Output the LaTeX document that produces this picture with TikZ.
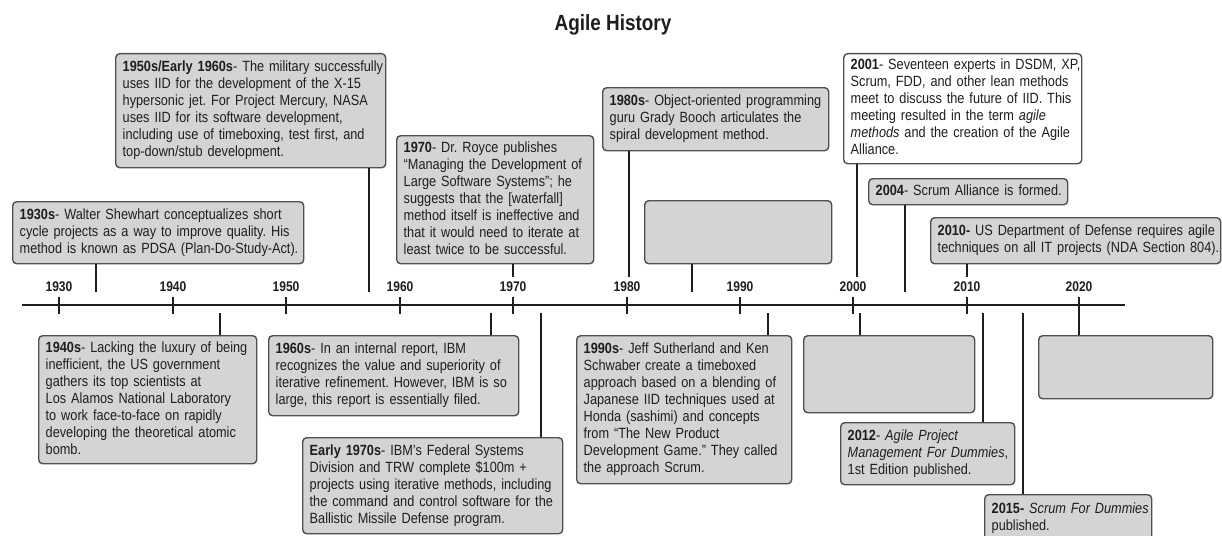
\documentclass[tikz,border=0pt]{standalone}
\usepackage{fontspec}
\setmainfont{Liberation Sans}[FakeStretch=0.86]
\definecolor{boxfill}{RGB}{212,212,212}
\definecolor{boxline}{RGB}{80,80,80}
\definecolor{ink}{RGB}{30,30,30}
\tikzset{
  evbox/.style={draw=boxline, fill=boxfill, line width=1.4pt, rounded corners=4pt,
    anchor=north west, align=left, inner xsep=7pt, inner ysep=0pt, text=ink,
    font=\fontsize{14.8}{17}\selectfont\frenchspacing},
  conn/.style={draw=ink, line width=1.1pt},
  axisline/.style={draw=ink, line width=1.2pt},
  yearlbl/.style={font=\fontsize{14}{15}\selectfont\bfseries, text=ink, inner sep=0pt},
}
\newcommand{\evb}[1]{\textbf{#1}}
\newcommand{\evt}[1]{\begin{tabular}{@{}l@{}}#1\end{tabular}}
\begin{document}
\begin{tikzpicture}[x=1pt,y=-1pt]
\clip (0,0) rectangle (1222,535);
\fill[white] (0,0) rectangle (1222,535);

% title
\node[font=\fontsize{22}{24}\selectfont\bfseries, text=ink] (title) at (613,25) {Agile History};

% axis
\coordinate (axL) at (22,305);
\coordinate (axR) at (1125,305);
\draw[axisline] (axL) -- (axR);
\foreach \yr/\xx in {1930/59,1940/173,1950/286,1960/400,1970/513,1980/627,1990/740,2000/853,2010/967,2020/1079}{
  \draw[axisline] (\xx,297) -- (\xx,314);
  \node[yearlbl] (y\yr) at (\xx,287) {\yr};
}

% upper boxes
\node[evbox, minimum width=291pt, minimum height=62pt, text width=277pt] (b1930s) at (12,201)
 {\evt{\evb{1930s}- Walter Shewhart conceptualizes short\\cycle projects as a way to improve quality. His\\method is known as PDSA (Plan-Do-Study-Act).}};
\node[evbox, minimum width=270pt, minimum height=114pt, text width=256pt] (b1950s) at (115,53)
 {\evt{\evb{1950s/Early 1960s}- The military successfully\\uses IID for the development of the X-15\\hypersonic jet. For Project Mercury, NASA\\uses IID for its software development,\\including use of timeboxing, test first, and\\top-down/stub development.}};
\node[evbox, minimum width=197pt, minimum height=128pt, text width=183pt] (b1970) at (396,135)
 {\evt{\evb{1970}- Dr. Royce publishes\\“Managing the Development of\\Large Software Systems”; he\\suggests that the [waterfall]\\method itself is ineffective and\\that it would need to iterate at\\least twice to be successful.}};
\node[evbox, minimum width=226pt, minimum height=63pt, text width=212pt] (b1980s) at (602,87)
 {\evt{\evb{1980s}- Object-oriented programming\\guru Grady Booch articulates the\\spiral development method.}};
\node[evbox, minimum width=187pt, minimum height=63pt] (bblankA) at (644,200) {};
\node[evbox, fill=white, minimum width=238pt, minimum height=110pt, text width=224pt] (b2001) at (843,53)
 {\evt{\evb{2001}- Seventeen experts in DSDM, XP,\\Scrum, FDD, and other lean methods\\meet to discuss the future of IID. This\\meeting resulted in the term \textit{agile}\\\textit{methods} and the creation of the Agile\\Alliance.}};
\node[evbox, minimum width=199pt, minimum height=26pt, text width=185pt] (b2004) at (868,178)
 {\evt{\evb{2004}- Scrum Alliance is formed.}};
\node[evbox, minimum width=290pt, minimum height=46pt, text width=276pt] (b2010) at (930,217)
 {\evt{\evb{2010-} US Department of Defense requires agile\\techniques on all IT projects (NDA Section 804).}};

% lower boxes
\node[evbox, minimum width=218pt, minimum height=128pt, text width=204pt] (b1940s) at (38,335)
 {\evt{\evb{1940s}- Lacking the luxury of being\\inefficient, the US government\\gathers its top scientists at\\Los Alamos National Laboratory\\to work face-to-face on rapidly\\developing the theoretical atomic\\bomb.}};
\node[evbox, minimum width=250pt, minimum height=80pt, text width=236pt] (b1960s) at (268,335)
 {\evt{\evb{1960s}- In an internal report, IBM\\recognizes the value and superiority of\\iterative refinement. However, IBM is so\\large, this report is essentially filed.}};
\node[evbox, minimum width=260pt, minimum height=96pt, text width=246pt] (bE1970s) at (302,437)
 {\evt{\evb{Early 1970s}- IBM’s Federal Systems\\Division and TRW complete \$100m +\\projects using iterative methods, including\\the command and control software for the\\Ballistic Missile Defense program.}};
\node[evbox, minimum width=215pt, minimum height=148pt, text width=201pt] (b1990s) at (576,335)
 {\evt{\evb{1990s}- Jeff Sutherland and Ken\\Schwaber create a timeboxed\\approach based on a blending of\\Japanese IID techniques used at\\Honda (sashimi) and concepts\\from “The New Product\\Development Game.” They called\\the approach Scrum.}};
\node[evbox, minimum width=171pt, minimum height=77pt] (bblankB) at (803,335) {};
\node[evbox, minimum width=174pt, minimum height=62pt, text width=160pt] (b2012) at (840,422)
 {\evt{\evb{2012}- \textit{Agile Project}\\\textit{Management For Dummies},\\1st Edition published.}};
\node[evbox, minimum width=167pt, minimum height=48pt, text width=153pt] (b2015) at (984,494)
 {\evt{\evb{2015-} \textit{Scrum For Dummies}\\published.}};
\node[evbox, minimum width=174pt, minimum height=63pt] (bblankC) at (1038,335) {};

% connector ends
\coordinate (a1930s) at (96,292);
\coordinate (a1950s) at (369,292);
\coordinate (a1970) at (513,277);
\coordinate (a1980s) at (629,277);
\coordinate (ablankA) at (692,292);
\coordinate (a2001) at (857,277);
\coordinate (a2004) at (905,292);
\coordinate (a2010) at (967,277);
\coordinate (a1940s) at (220,313);
\coordinate (a1960s) at (491,313);
\coordinate (aE1970s) at (541,313);
\coordinate (a1990s) at (768,313);
\coordinate (ablankB) at (860,313);
\coordinate (a2012) at (983,313);
\coordinate (a2015) at (1023,313);
\coordinate (ablankC) at (1079,313);

\foreach \n in {1930s,1950s,1970,1980s,blankA,2001,2004,2010}{
  \draw[conn] (b\n.south -| a\n) -- (a\n);
}
\foreach \n in {1940s,1960s,E1970s,1990s,blankB,2012,2015,blankC}{
  \draw[conn] (b\n.north -| a\n) -- (a\n);
}
\end{tikzpicture}
\end{document}
